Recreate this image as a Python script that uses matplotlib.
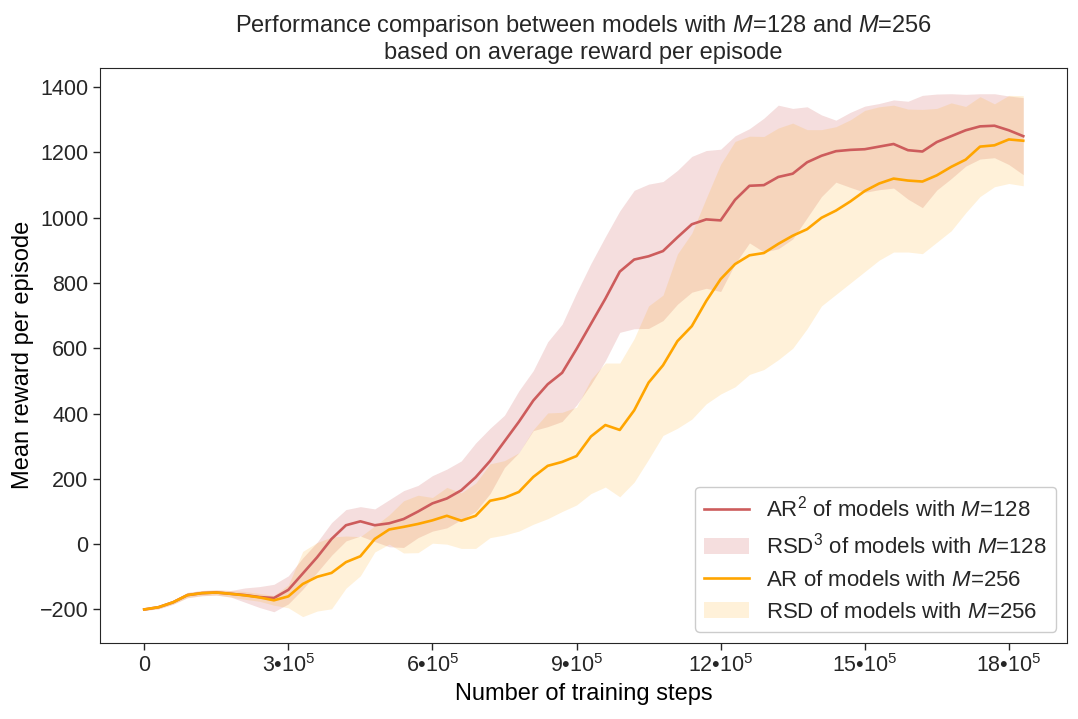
import numpy as np
from matplotlib import pyplot as plt
from matplotlib.patches import Patch
from matplotlib.lines import Line2D

# training steps grid (every 30k steps)
steps = np.arange(0, 1830001, 30000)

ar_128 = [-200, -193, -178, -156, -150, -148, -152, -156, -162, -165,
          -140, -90, -40, 16, 58, 70, 58, 64, 77, 100,
          125, 140, 165, 205, 255, 315, 375, 440, 490, 525,
          598, 675, 752, 835, 872, 882, 898, 940, 980, 995,
          992, 1055, 1098, 1100, 1125, 1135, 1170, 1190, 1204, 1208,
          1210, 1218, 1226, 1207, 1203, 1232, 1250, 1268, 1280, 1282,
          1268, 1250]
rsd_128 = [3, 5, 6, 8, 8, 8, 10, 22, 32, 42,
           43, 48, 46, 50, 48, 45, 50, 72, 87, 80,
           85, 90, 90, 105, 100, 80, 95, 92, 130, 149,
           172, 185, 190, 186, 212, 221, 213, 205, 208, 211,
           218, 196, 175, 205, 220, 200, 170, 125, 95, 115,
           132, 132, 135, 150, 172, 147, 130, 110, 100, 98,
           105, 118]

ar_256 = [-200, -193, -178, -156, -150, -148, -152, -157, -163, -172,
          -160, -122, -100, -88, -55, -37, 16, 45, 53, 62,
          73, 87, 72, 87, 133, 142, 160, 206, 240, 252,
          270, 330, 365, 350, 410, 495, 548, 622, 668, 745,
          812, 858, 885, 892, 920, 945, 965, 1000, 1022, 1050,
          1082, 1105, 1120, 1114, 1111, 1130, 1156, 1178, 1218, 1222,
          1240, 1236]
rsd_256 = [3, 5, 6, 8, 8, 8, 10, 12, 12, 15,
           35, 100, 105, 110, 80, 60, 40, 45, 80, 88,
           70, 87, 85, 100, 113, 114, 120, 145, 162, 152,
           150, 175, 190, 205, 220, 235, 215, 267, 285, 315,
           352, 376, 365, 357, 355, 345, 305, 270, 257, 250,
           247, 235, 225, 219, 221, 205, 196, 163, 153, 127,
           135, 138]

xtick_values = [0, 3e5, 6e5, 9e5, 12e5, 15e5, 18e5]
xtick_labels = ['0', '3•10$^5$', '6•10$^5$', '9•10$^5$', '12•10$^5$', '15•10$^5$', '18•10$^5$']

red = 'indianred'
orange = 'orange'

plt.rcParams['font.family'] = ['Liberation Sans', 'DejaVu Sans']
plt.rcParams['mathtext.fontset'] = 'custom'
plt.rcParams['mathtext.rm'] = 'Liberation Sans'
plt.rcParams['mathtext.it'] = 'Liberation Sans:italic'
plt.rcParams['text.color'] = '.15'
plt.rcParams['axes.edgecolor'] = '.15'
plt.rcParams['xtick.color'] = '.15'
plt.rcParams['ytick.color'] = '.15'

fig = plt.figure(figsize=(10.78, 7.19), dpi=100)
ax = fig.add_axes([0.093, 0.106, 0.897, 0.8])

steps_arr = np.array(steps)
m128, s128 = np.array(ar_128), np.array(rsd_128)
m256, s256 = np.array(ar_256), np.array(rsd_256)

ax.fill_between(steps_arr, m128 - s128, m128 + s128, color=red, alpha=0.2, linewidth=0)
ax.fill_between(steps_arr, m256 - s256, m256 + s256, color=orange, alpha=0.15, linewidth=0)
ax.plot(steps_arr, m128, color=red, linewidth=1.9)
ax.plot(steps_arr, m256, color=orange, linewidth=1.9)

ax.set_xticks(xtick_values)
ax.set_xticklabels(xtick_labels, fontsize=15.5, family=['Liberation Sans Narrow', 'Liberation Sans'])
ax.tick_params(axis='y', labelsize=15.5)
ax.tick_params(direction='out', length=5, width=1)
ax.set_yticks([-200, 0, 200, 400, 600, 800, 1000, 1200, 1400])

ax.set_xlabel('Number of training steps', fontsize=17,
              family=['Liberation Sans Narrow', 'Liberation Sans'])
ax.set_ylabel('Mean reward per episode', fontsize=17)
ax.set_title('Performance comparison between models with $M$=128 and $M$=256\n'
             'based on average reward per episode', fontsize=17)

handles = [
    Line2D([0], [0], color=red, linewidth=1.9),
    Patch(facecolor=red, alpha=0.2),
    Line2D([0], [0], color=orange, linewidth=1.9),
    Patch(facecolor=orange, alpha=0.15),
]
labels = [
    'AR$^2$ of models with $M$=128',
    'RSD$^3$ of models with $M$=128',
    'AR of models with $M$=256',
    'RSD of models with $M$=256',
]
ax.legend(handles, labels, loc='lower right', fontsize=16, framealpha=1,
          edgecolor='0.8')

fig.savefig('out.png', dpi=100)
